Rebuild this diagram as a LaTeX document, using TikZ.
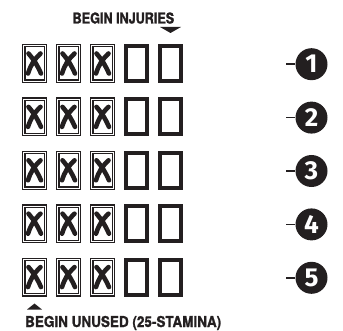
\documentclass[tikz,border=0pt]{standalone}
\usepackage{fontspec}
\newfontfamily\bannerfont{TeX Gyre Heros}[FakeStretch=0.84, FakeBold=1.2]
\newfontfamily\widebannerfont{TeX Gyre Heros}[FakeStretch=0.9, FakeBold=1.2]
\newfontfamily\digitfont{Fira Sans}
\usetikzlibrary{positioning}
\definecolor{ink}{RGB}{35,31,32}
\tikzset{
  % Track boxes
  xbox/.style={rectangle, draw=ink, line width=1.3pt, double=white, double distance=0.9pt, minimum width=21.5pt, minimum height=35.5pt, inner sep=0pt},
  openbox/.style={rectangle, draw=ink, line width=4pt, minimum width=21pt, minimum height=35pt, inner sep=0pt},
  xmark/.style={draw=ink, line width=4.6pt, line cap=round},
  % Row numbers
  numdisc/.style={circle, text=white, minimum size=32pt, inner sep=0pt, font=\digitfont\bfseries\fontsize{26}{26}\selectfont},
  tick/.style={draw=ink, line width=1.6pt},
  banner/.style={font=\bannerfont\bfseries\fontsize{15}{15}\selectfont, text=ink, inner sep=0pt},
}
\begin{document}
\begin{tikzpicture}[x=1pt, y=1pt]
    \useasboundingbox (0,0) rectangle (343,330);

    % Rows of boxes
    \foreach \r in {1,...,5} {
      \foreach \c in {1,2,3} {
        \node[xbox] (b\r\c) at ({0.5+34*\c}, {319.9-53.4*\r}) {};
        \draw[xmark] ([shift={(-6pt,10pt)}]b\r\c.center) to[bend left=8] ([shift={(6.5pt,-10pt)}]b\r\c.center);
        \draw[xmark] ([shift={(6pt,10pt)}]b\r\c.center) to[bend right=14] ([shift={(-6.5pt,-10pt)}]b\r\c.center);
      }
      \foreach \c in {4,5} {
        \node[openbox] (b\r\c) at ({0.5+34*\c}, {319.9-53.4*\r}) {};
      }
      % Row number
      \coordinate (c\r) at (311.5, {319.2-53.4*\r});
      \fill[ink] (c\r) circle[radius=16];
      \node[numdisc] (n\r) at (c\r) {\r};
      \draw[tick] (n\r.west) -- ++(-9,0);
    }

    % Begin injuries
    \fill[ink] ([yshift=11pt]b15.north) -- ++(-10.5,6) -- ++(21,0) -- cycle;
    \node[banner, anchor=base west] (injuries) at (72.5, 306.5) {BEGIN INJURIES};

    % Begin unused
    \fill[ink] ([yshift=-8pt]b51.south) -- ++(-7.5,-6) -- ++(15,0) -- cycle;
    \node[banner, font=\widebannerfont\bfseries\fontsize{15}{15}\selectfont, anchor=base west] (unused) at (25, 3) {BEGIN UNUSED (25-STAMINA)};
  \end{tikzpicture}
\end{document}
